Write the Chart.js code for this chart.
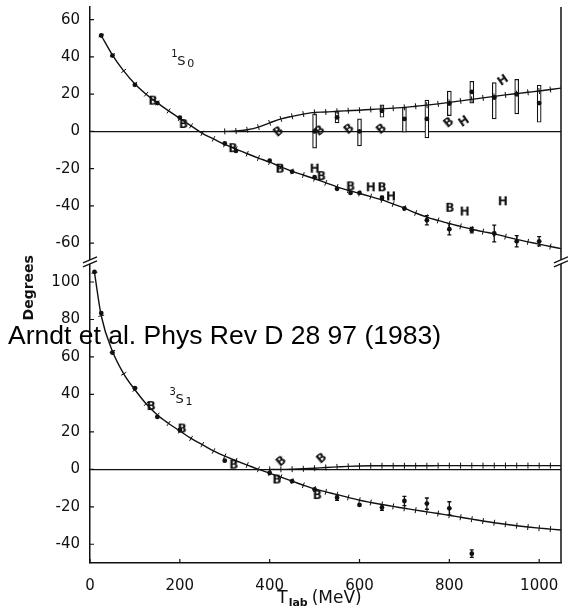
<!DOCTYPE html>
<html>
<head>
<meta charset="utf-8">
<title>NN phase shifts 1S0 / 3S1</title>
<script src="https://cdn.jsdelivr.net/npm/chart.js@4.4.0/dist/chart.umd.min.js"></script>
<style>
  html, body { margin: 0; padding: 0; background: #fff; }
  canvas { display: block; }
</style>
</head>
<body>
<canvas id="phaseChart" width="568" height="607"></canvas>
<script>
const ink = '#111';

// axis ticks
const xTicks = [0, 200, 400, 600, 800, 1000];
const topTicks = [-60, -40, -20, 0, 20, 40, 60];
const botTicks = [-40, -20, 0, 20, 40, 60, 80, 100];

// 1S0 solution curves (marks every 25 MeV)
const s0RealE = [25, 50, 75, 100, 125, 150, 175, 200, 225, 250, 275, 300, 325, 350, 375, 400, 425, 450, 475, 500, 525,
    550, 575, 600, 625, 650, 675, 700, 725, 750, 775, 800, 825, 850, 875, 900, 925, 950, 975, 1000, 1025, 1050];
const s0Real = [51.5, 41, 32.5, 25.5, 20, 15.3, 11, 7, 3, -1, -4, -7, -9.5, -12, -14.3, -16.5, -19, -21.5, -23.4, -25.4, -27.6,
    -29.8, -31.6, -33.3, -35, -36.8, -39, -41.2, -43.8, -46, -47.8, -49.5, -51, -52.5, -53.8, -55, -56.5, -58, -59.3, -60.5, -61.8, -63];
const s0ImagE = [300, 325, 350, 375, 400, 425, 450, 475, 500, 525, 550, 575, 600, 625, 650, 675, 700, 725, 750, 775, 800,
    825, 850, 875, 900, 925, 950, 975, 1000, 1025, 1050];
const s0Imag = [0, 0.2, 0.9, 2.3, 4.6, 6.7, 8.1, 9.3, 10.2, 10.4, 10.8, 11.1, 11.4, 11.8, 12.1, 12.5, 12.9, 13.5, 14.1, 14.8, 15.6,
    16.4, 17.2, 18, 18.8, 19.6, 20.3, 21, 21.7, 22.5, 23.3];

// 1S0 data points
const s0DotE = [25, 50, 100, 150, 200, 300, 325, 400, 450, 500, 550, 580, 600, 650, 700, 750, 800, 850, 900, 950, 1000];
const s0Dot = [51.5, 40.7, 25, 15.2, 7.4, -6.5, -10.5, -15.7, -21.6, -24.6, -30.8, -33, -33, -35.7, -41.4, -47.7, -52.5, -53, -54.8, -59, -59];
const s0DotErr = [0, 0, 0, 0, 0, 0, 0, 0, 0, 0, 0, 0, 0, 1, 0, 2.5, 3, 1.5, 4.5, 3, 2.5];
const s0BoxE = [500, 550, 600, 650, 700, 750, 800, 850, 900, 950, 1000];
const s0BoxLo = [-9, 4.6, -7.8, 7.6, -0.4, -3.5, 8.5, 15.2, 6.7, 9.4, 4.9];
const s0BoxHi = [9.4, 10.6, 6.7, 14.3, 12.9, 16.8, 21.6, 26.9, 26.2, 28, 24.8];
const s0BoxMid = [0, 7.5, 0, 11, 6.7, 6.7, 15, 21.2, 18.2, 20, 15.2];
const s0BE = [140, 208, 318, 423, 515, 580, 650, 801];
const s0B = [16.5, 4, -9, -20, -24, -29.5, -30, -41];
const s0HE = [500, 625, 670, 834, 919];
const s0H = [-20, -30, -34.9, -43, -37.5];
const s0TiltBE = [419, 511, 576, 648, 798];
const s0TiltB = [0, 0.5, 1.4, 1.4, 4.9];
const s0TiltHE = [832, 919];
const s0TiltH = [5.5, 27.6];

// 3S1 solution curves
const s1RealE = [10, 25, 50, 75, 100, 125, 150, 175, 200, 225, 250, 275, 300, 325, 350, 375, 400, 425, 450, 475, 500, 525,
    550, 575, 600, 625, 650, 675, 700, 725, 750, 775, 800, 825, 850, 875, 900, 925, 950, 975, 1000, 1025, 1050];
const s1Real = [105, 82, 63, 51, 42.5, 35, 29, 24.5, 20.5, 16.5, 13.2, 9.8, 7, 4.6, 2.3, 0, -2, -4.2, -6.3, -8.5, -10.5, -12,
    -13.5, -15, -16.5, -17.7, -18.8, -19.8, -20.8, -21.8, -22.7, -23.6, -24.5, -25.6, -26.6, -27.6, -28.5, -29.3, -30.1, -30.8, -31.4, -31.9, -32.4];
const s1ImagE = [400, 425, 450, 475, 500, 525, 550, 575, 600, 625, 650, 675, 700, 725, 750, 775, 800, 825, 850, 875, 900,
    925, 950, 975, 1000, 1025, 1050];
const s1Imag = [0, 0, 0.1, 0.3, 0.6, 1, 1.3, 1.6, 1.8, 1.9, 1.9, 1.9, 1.9, 1.9, 1.9, 2, 2, 2, 2, 2, 2, 2, 2, 2, 2, 2, 2];

// 3S1 data points
const s1DotE = [10, 25, 50, 100, 150, 200, 300, 400, 450, 500, 550, 600, 650, 700, 750, 800, 850];
const s1Dot = [105.4, 83.4, 62.3, 43.3, 28, 21, 4.6, -1.9, -6.3, -10.7, -15.1, -19, -20.4, -16.9, -18.3, -20.8, -45];
const s1DotErr = [0, 0, 0, 0, 0, 0, 0, 0, 0, 0, 1.5, 0, 1.5, 2.5, 3, 3.5, 2];
const s1BE = [136, 205, 320, 416, 506];
const s1B = [33.8, 21.8, 2.5, -5.4, -13.7];
const s1TiltBE = [425, 515];
const s1TiltB = [4.4, 6];

const pts = (xs, ys) => xs.map((x, i) => ({ x, y: ys[i] }));

function letterMarker(ch) {
    const c = document.createElement('canvas');
    c.width = 12;
    c.height = 14;
    const g = c.getContext('2d');
    g.font = 'bold 12px "DejaVu Sans"';
    g.fillStyle = ink;
    g.textAlign = 'center';
    g.textBaseline = 'middle';
    g.fillText(ch, 6, 7.5);
    return c;
}
const markB = letterMarker('B');
const markH = letterMarker('H');

// small marks across the curve, perpendicular to it
function tickAngle(ctx) {
    const data = ctx.dataset.data;
    const i = ctx.dataIndex;
    const a = data[Math.max(i - 1, 0)];
    const b = data[Math.min(i + 1, data.length - 1)];
    const xs = ctx.chart.scales.x;
    const ys = ctx.chart.scales[ctx.dataset.yAxisID];
    const dx = xs.getPixelForValue(b.x) - xs.getPixelForValue(a.x);
    const dy = ys.getPixelForValue(b.y) - ys.getPixelForValue(a.y);
    return Math.atan2(dy, dx) * 180 / Math.PI + 90;
}

function curve(xs, ys, axis) {
    return {
        type: 'scatter', data: pts(xs, ys), yAxisID: axis, showLine: true,
        borderColor: ink, borderWidth: 1.4, cubicInterpolationMode: 'monotone',
        pointStyle: 'line', pointRadius: 3, pointBorderWidth: 1, pointBorderColor: ink,
        rotation: tickAngle
    };
}

function dots(xs, ys, axis, errs) {
    return {
        type: 'scatter', data: pts(xs, ys), yAxisID: axis, errors: errs,
        pointStyle: 'circle', pointRadius: 2.4, pointBorderWidth: 0, backgroundColor: ink
    };
}

function letters(xs, ys, axis, mark, rot) {
    return {
        type: 'scatter', data: pts(xs, ys), yAxisID: axis,
        pointStyle: mark, rotation: rot || 0, pointRadius: 6
    };
}

const errorBars = {
    id: 'errorBars',
    afterDatasetsDraw(chart) {
        const { ctx } = chart;
        chart.data.datasets.forEach((ds, i) => {
            if (!ds.errors) return;
            const xs = chart.scales.x;
            const ys = chart.scales[ds.yAxisID];
            ctx.save();
            ctx.strokeStyle = ink;
            ctx.lineWidth = 1.3;
            ds.data.forEach((p, j) => {
                const e = ds.errors[j];
                if (!e) return;
                const x = xs.getPixelForValue(p.x);
                const y1 = ys.getPixelForValue(p.y + e);
                const y2 = ys.getPixelForValue(p.y - e);
                ctx.beginPath();
                ctx.moveTo(x, y1); ctx.lineTo(x, y2);
                ctx.moveTo(x - 2, y1); ctx.lineTo(x + 2, y1);
                ctx.moveTo(x - 2, y2); ctx.lineTo(x + 2, y2);
                ctx.stroke();
            });
            ctx.restore();
        });
    }
};

const decorations = {
    id: 'decorations',
    afterDraw(chart) {
        const { ctx, chartArea } = chart;
        const xs = chart.scales.x, yTop = chart.scales.yTop, yBot = chart.scales.yBot;
        ctx.save();
        ctx.strokeStyle = ink;
        ctx.fillStyle = ink;

        // right frame line
        ctx.lineWidth = 1.5;
        ctx.beginPath();
        ctx.moveTo(chartArea.right, chartArea.top);
        ctx.lineTo(chartArea.right, chartArea.bottom);
        ctx.stroke();

        // inward tick marks
        ctx.lineWidth = 1.2;
        ctx.beginPath();
        xTicks.forEach(v => {
            const x = xs.getPixelForValue(v);
            ctx.moveTo(x, chartArea.bottom);
            ctx.lineTo(x, chartArea.bottom - 4);
        });
        [[yTop, topTicks], [yBot, botTicks]].forEach(([s, ticks]) => {
            ticks.forEach(v => {
                const y = s.getPixelForValue(v);
                ctx.moveTo(chartArea.left, y);
                ctx.lineTo(chartArea.left + 4, y);
            });
        });
        ctx.stroke();

        // axis breaks
        const yb = yTop.bottom;
        [chartArea.left, chartArea.right].forEach(x => {
            ctx.fillStyle = '#fff';
            ctx.beginPath();
            ctx.moveTo(x - 7, yb + 5); ctx.lineTo(x + 7, yb - 1);
            ctx.lineTo(x + 7, yb - 5); ctx.lineTo(x - 7, yb + 1);
            ctx.closePath();
            ctx.fill();
            ctx.lineWidth = 1.3;
            ctx.beginPath();
            ctx.moveTo(x - 7, yb + 5); ctx.lineTo(x + 7, yb - 1);
            ctx.moveTo(x - 7, yb + 1); ctx.lineTo(x + 7, yb - 5);
            ctx.stroke();
        });
        ctx.fillStyle = ink;

        // y title
        ctx.save();
        ctx.translate(29, yb + 26);
        ctx.rotate(-Math.PI / 2);
        ctx.font = 'bold 14px "DejaVu Sans"';
        ctx.textAlign = 'center';
        ctx.textBaseline = 'middle';
        ctx.fillText('Degrees', 0, 0);
        ctx.restore();

        // x title: T_lab (MeV)
        ctx.textBaseline = 'alphabetic';
        ctx.textAlign = 'left';
        const bigFont = '17px "DejaVu Sans"', subFont = 'bold 11px "DejaVu Sans"';
        ctx.font = bigFont;
        const wT = ctx.measureText('T').width, wM = ctx.measureText('(MeV)').width;
        ctx.font = subFont;
        const wSub = ctx.measureText('lab').width;
        let tx = (chartArea.left + chartArea.right) / 2 - 6 - (wT + wSub + 5 + wM) / 2;
        const by = chartArea.bottom + 40;
        ctx.font = bigFont;
        ctx.fillText('T', tx, by);
        ctx.font = subFont;
        ctx.fillText('lab', tx + wT + 1, by + 3);
        ctx.font = bigFont;
        ctx.fillText('(MeV)', tx + wT + wSub + 5, by);

        // panel labels
        const waveLabel = (s, sup, sub, e, v) => {
            const x = xs.getPixelForValue(e), y = s.getPixelForValue(v);
            ctx.font = '10px "DejaVu Sans"';
            ctx.fillText(sup, x, y - 8);
            ctx.font = '13px "DejaVu Sans"';
            ctx.fillText('S', x + 6, y);
            ctx.font = '11px "DejaVu Sans"';
            ctx.fillText(sub, x + 16, y + 2);
        };
        waveLabel(yTop, '1', '0', 181, 35.5);
        waveLabel(yBot, '3', '1', 177, 35.4);

        // reference overlay
        ctx.font = '26.5px "Liberation Sans", Arial, sans-serif';
        ctx.fillStyle = '#000';
        ctx.fillText('Arndt et al. Phys Rev D 28 97 (1983)', 8, 344);
        ctx.restore();
    }
};

function yScale(ticks, min, max, weight) {
    return {
        type: 'linear', position: 'left', stack: 'deg', stackWeight: weight,
        min, max,
        afterBuildTicks: s => { s.ticks = ticks.map(v => ({ value: v })); },
        afterFit: s => { s.width = 90; s.paddingTop = 0; s.paddingBottom = 0; },
        grid: {
            drawTicks: false,
            color: c => (c.tick && c.tick.value === 0 ? ink : 'rgba(0,0,0,0)'),
            lineWidth: 1.2
        },
        border: { display: true, color: ink, width: 1.5 },
        ticks: { color: ink, padding: 10, font: { family: 'DejaVu Sans', size: 15 }, callback: v => String(v) }
    };
}

new Chart(document.getElementById('phaseChart'), {
    type: 'scatter',
    data: {
        datasets: [
            curve(s0RealE, s0Real, 'yTop'),
            curve(s0ImagE, s0Imag, 'yTop'),
            curve(s1RealE, s1Real, 'yBot'),
            curve(s1ImagE, s1Imag, 'yBot'),
            dots(s0DotE, s0Dot, 'yTop', s0DotErr),
            dots(s0BoxE, s0BoxMid, 'yTop'),
            dots(s1DotE, s1Dot, 'yBot', s1DotErr),
            letters(s0BE, s0B, 'yTop', markB),
            letters(s0HE, s0H, 'yTop', markH),
            letters(s0TiltBE, s0TiltB, 'yTop', markB, -40),
            letters(s0TiltHE, s0TiltH, 'yTop', markH, -35),
            letters(s1BE, s1B, 'yBot', markB),
            letters(s1TiltBE, s1TiltB, 'yBot', markB, -40),
            {
                type: 'bar', yAxisID: 'yTop',
                data: s0BoxE.map((x, i) => ({ x, y: [s0BoxLo[i], s0BoxHi[i]] })),
                backgroundColor: '#fff', borderColor: ink, borderWidth: 1.2,
                borderSkipped: false, barThickness: 4
            }
        ]
    },
    options: {
        responsive: false,
        animation: false,
        layout: { padding: { left: 0, right: 3, top: 0, bottom: 0 } },
        plugins: { legend: { display: false }, tooltip: { enabled: false } },
        scales: {
            x: {
                type: 'linear', position: 'bottom', min: 0, max: 1048.6, offset: false,
                afterBuildTicks: s => { s.ticks = xTicks.map(v => ({ value: v })); },
                afterFit: s => { s.height = 44; s.paddingLeft = 0; s.paddingRight = 0; },
                grid: { display: false },
                border: { display: true, color: ink, width: 1.5 },
                ticks: {
                    color: ink, padding: 6, maxRotation: 0, autoSkip: false,
                    font: { family: 'DejaVu Sans', size: 15 }, callback: v => String(v)
                }
            },
            yBot: yScale(botTicks, -50, 110.8, 305),
            yTop: yScale(topTicks, -70, 66.8, 258)
        }
    },
    plugins: [errorBars, decorations]
});
</script>
</body>
</html>
